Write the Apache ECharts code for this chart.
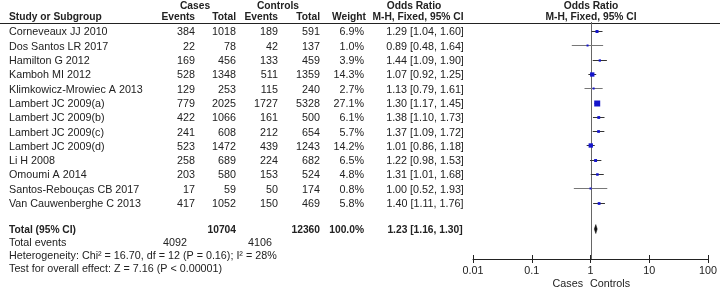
<!DOCTYPE html>
<html>
<head>
<meta charset="utf-8">
<script src="https://cdn.jsdelivr.net/npm/echarts@6/dist/echarts.min.js"></script>
<style>
  html, body { margin: 0; padding: 0; background: #fff; }
  #forest { width: 720px; height: 287px; }
</style>
</head>
<body>
<div id="forest"></div>
<script>
// study rows
const studies = ['Corneveaux JJ 2010', 'Dos Santos LR 2017', 'Hamilton G 2012', 'Kamboh MI 2012',
    'Klimkowicz-Mrowiec A 2013', 'Lambert JC 2009(a)', 'Lambert JC 2009(b)', 'Lambert JC 2009(c)',
    'Lambert JC 2009(d)', 'Li H 2008', 'Omoumi A 2014', 'Santos-Rebouças CB 2017', 'Van Cauwenberghe C 2013'];
const casesEvents = [384, 22, 169, 528, 129, 779, 422, 241, 523, 258, 203, 17, 417];
const casesTotal = [1018, 78, 456, 1348, 253, 2025, 1066, 608, 1472, 689, 580, 59, 1052];
const controlsEvents = [189, 42, 133, 511, 115, 1727, 161, 212, 439, 224, 153, 50, 150];
const controlsTotal = [591, 137, 459, 1359, 240, 5328, 500, 654, 1243, 682, 524, 174, 469];
const weights = [6.9, 1.0, 3.9, 14.3, 2.7, 27.1, 6.1, 5.7, 14.2, 6.5, 4.8, 0.8, 5.8];
const oddsRatios = [1.29, 0.89, 1.44, 1.07, 1.13, 1.30, 1.38, 1.37, 1.01, 1.22, 1.31, 1.00, 1.40];
const ciLow = [1.04, 0.48, 1.09, 0.92, 0.79, 1.17, 1.10, 1.09, 0.86, 0.98, 1.01, 0.52, 1.11];
const ciHigh = [1.60, 1.64, 1.90, 1.25, 1.61, 1.45, 1.73, 1.72, 1.18, 1.53, 1.68, 1.93, 1.76];

// pooled result
const totalParticipants = [10704, 12360];
const totalEvents = [4092, 4106];
const totalWeight = 100.0;
const pooled = [1.23, 1.16, 1.30]; // OR, low, high
const heterogeneityText = 'Heterogeneity: Chi² = 16.70, df = 12 (P = 0.16); I² = 28%';
const overallText = 'Test for overall effect: Z = 7.16 (P < 0.00001)';

const tickLabels = ['0.01', '0.1', '1', '10', '100'];
const favourLabels = ['Cases', 'Controls'];

(function () {
    const FONT = '"Liberation Sans", Arial, sans-serif';
    const FS = 10.75;
    const FS_BOLD = 10.25;
    const TEXT_DY = 1.5;  // text sits a little below the marks of its row
    const ROW_H = 14.3;   // pixel height of one row
    const ROW0 = 31;      // y of first study row

    // column anchors on the 0..720 table axis
    const COL = { name: 9, cEv: 195, cTot: 236, kEv: 278, kTot: 320, wt: 364, orMid: 425 };

    const ROW_TOTAL = 13.85, ROW_TEVENTS = 14.75, ROW_HET = 15.65, ROW_TEST = 16.55, ROW_FAV = 17.6;

    function fmtCI(o, l, h) {
        return o.toFixed(2) + ' [' + l.toFixed(2) + ', ' + h.toFixed(2) + ']';
    }

    let cells = [];
    function cell(x, row, text, align, bold) {
        cells.push({ x: x, row: row, text: String(text), align: align || 'right', bold: !!bold });
    }

    // header
    cell(195, -1.85, 'Cases', 'center', true);
    cell(278, -1.85, 'Controls', 'center', true);
    cell(414, -1.85, 'Odds Ratio', 'center', true);
    cell(591, -1.85, 'Odds Ratio', 'center', true);
    cell(COL.name, -1.05, 'Study or Subgroup', 'left', true);
    cell(COL.cEv, -1.05, 'Events', 'right', true);
    cell(COL.cTot, -1.05, 'Total', 'right', true);
    cell(COL.kEv, -1.05, 'Events', 'right', true);
    cell(COL.kTot, -1.05, 'Total', 'right', true);
    cell(366, -1.05, 'Weight', 'right', true);
    cell(418, -1.05, 'M-H, Fixed, 95% CI', 'center', true);
    cell(591, -1.05, 'M-H, Fixed, 95% CI', 'center', true);

    for (let i = 0; i < studies.length; i++) {
        cell(COL.name, i, studies[i], 'left');
        cell(COL.cEv, i, casesEvents[i]);
        cell(COL.cTot, i, casesTotal[i]);
        cell(COL.kEv, i, controlsEvents[i]);
        cell(COL.kTot, i, controlsTotal[i]);
        cell(COL.wt, i, weights[i].toFixed(1) + '%');
        cell(COL.orMid, i, fmtCI(oddsRatios[i], ciLow[i], ciHigh[i]), 'center');
    }

    cell(COL.name, ROW_TOTAL, 'Total (95% CI)', 'left', true);
    cell(COL.cTot, ROW_TOTAL, totalParticipants[0], 'right', true);
    cell(COL.kTot, ROW_TOTAL, totalParticipants[1], 'right', true);
    cell(COL.wt, ROW_TOTAL, totalWeight.toFixed(1) + '%', 'right', true);
    cell(COL.orMid, ROW_TOTAL, fmtCI(pooled[0], pooled[1], pooled[2]), 'center', true);

    cell(COL.name, ROW_TEVENTS, 'Total events', 'left');
    cell(187, ROW_TEVENTS, totalEvents[0]);
    cell(272, ROW_TEVENTS, totalEvents[1]);
    cell(COL.name, ROW_HET, heterogeneityText, 'left');
    cell(COL.name, ROW_TEST, overallText, 'left');

    cell(583, ROW_FAV, favourLabels[0], 'right');
    cell(590, ROW_FAV, favourLabels[1], 'left');

    let studyData = [];
    for (let i = 0; i < studies.length; i++) {
        studyData.push([oddsRatios[i], ciLow[i], ciHigh[i], i, weights[i]]);
    }

    const yMin = (22 - ROW0) / ROW_H, yMax = (259 - ROW0) / ROW_H;

    let chartDom = document.getElementById('forest');
    let myChart = echarts.init(chartDom, null, { renderer: 'canvas' });

    let option = {
        animation: false,
        backgroundColor: '#fff',
        grid: [
            { left: 0, right: 0, top: 0, bottom: 0 },
            { left: 473, right: 9, top: 22, bottom: 28 }
        ],
        xAxis: [
            { gridIndex: 0, type: 'value', min: 0, max: 720, show: false },
            {
                gridIndex: 1, type: 'log', logBase: 10, min: 0.01, max: 100, position: 'bottom',
                axisLine: { show: true, onZero: false, lineStyle: { color: '#222', width: 1 } },
                axisTick: { show: true, length: 4, lineStyle: { color: '#222' } },
                splitLine: { show: false },
                axisLabel: {
                    show: true, margin: 7, color: '#222', fontSize: FS, fontFamily: FONT,
                    formatter: function (v) { return tickLabels[Math.round(Math.log10(v)) + 2]; }
                }
            },
            {
                gridIndex: 1, type: 'log', logBase: 10, min: 0.01, max: 100, position: 'bottom',
                axisLine: { show: false, onZero: false },
                axisTick: { show: true, inside: true, length: 4, lineStyle: { color: '#222' } },
                splitLine: { show: false },
                axisLabel: { show: false }
            }
        ],
        yAxis: [
            { gridIndex: 0, type: 'value', inverse: true, min: -ROW0 / ROW_H, max: (287 - ROW0) / ROW_H, show: false },
            { gridIndex: 1, type: 'value', inverse: true, min: yMin, max: yMax, show: false }
        ],
        series: [
            {
                // table text
                type: 'custom',
                xAxisIndex: 0, yAxisIndex: 0,
                silent: true,
                data: cells.map(function (c) { return [c.x, c.row]; }),
                renderItem: function (params, api) {
                    let c = cells[params.dataIndex];
                    let p = api.coord([c.x, c.row]);
                    return {
                        type: 'text',
                        style: {
                            x: p[0], y: p[1] + TEXT_DY, text: c.text,
                            align: c.align, verticalAlign: 'middle',
                            font: c.bold ? 'bold ' + FS_BOLD + 'px ' + FONT : FS + 'px ' + FONT,
                            fill: '#222'
                        }
                    };
                }
            },
            {
                // header rule
                type: 'custom',
                xAxisIndex: 0, yAxisIndex: 0,
                silent: true,
                data: [[0, -0.59]],
                renderItem: function (params, api) {
                    let a = api.coord([0, -0.59]);
                    let b = api.coord([720, -0.59]);
                    return {
                        type: 'line',
                        shape: { x1: a[0], y1: Math.round(a[1]) + 0.5, x2: b[0], y2: Math.round(b[1]) + 0.5 },
                        style: { stroke: '#222', lineWidth: 1 }
                    };
                }
            },
            {
                // line of no effect (OR = 1)
                type: 'custom',
                xAxisIndex: 1, yAxisIndex: 1,
                silent: true,
                encode: { x: 0, y: 1 },
                data: [[1, yMin]],
                renderItem: function (params, api) {
                    let a = api.coord([1, yMin]);
                    let b = api.coord([1, yMax]);
                    let x = Math.round(a[0]) + 0.5;
                    return {
                        type: 'line',
                        shape: { x1: x, y1: a[1], x2: x, y2: b[1] },
                        style: { stroke: '#666', lineWidth: 1 }
                    };
                }
            },
            {
                // studies: CI line + weighted square
                type: 'custom',
                xAxisIndex: 1, yAxisIndex: 1,
                silent: true,
                encode: { x: [0, 1, 2], y: 3 },
                data: studyData,
                renderItem: function (params, api) {
                    let row = api.value(3);
                    let c = api.coord([api.value(0), row]);
                    let l = api.coord([api.value(1), row]);
                    let h = api.coord([api.value(2), row]);
                    let w = api.value(4);
                    let s = Math.max(2, 1.15 * Math.sqrt(w));
                    let y = Math.round(c[1]) + 0.5;
                    return {
                        type: 'group',
                        children: [
                            {
                                type: 'line',
                                shape: { x1: l[0], y1: y, x2: h[0], y2: y },
                                style: { stroke: w < 3 ? '#777' : '#333', lineWidth: 1 }
                            },
                            {
                                type: 'rect',
                                shape: { x: c[0] - s / 2, y: y - s / 2, width: s, height: s },
                                style: { fill: '#1414cc' }
                            }
                        ]
                    };
                }
            },
            {
                // pooled diamond
                type: 'custom',
                xAxisIndex: 1, yAxisIndex: 1,
                silent: true,
                encode: { x: [0, 1, 2], y: 3 },
                data: [[pooled[0], pooled[1], pooled[2], ROW_TOTAL]],
                renderItem: function (params, api) {
                    let row = api.value(3);
                    let c = api.coord([api.value(0), row]);
                    let l = api.coord([api.value(1), row]);
                    let h = api.coord([api.value(2), row]);
                    return {
                        type: 'polygon',
                        shape: { points: [[l[0], c[1]], [c[0], c[1] - 4.5], [h[0], c[1]], [c[0], c[1] + 4.5]] },
                        style: { fill: '#111', stroke: '#111', lineWidth: 0.5 }
                    };
                }
            }
        ]
    };

    myChart.setOption(option);

    window.addEventListener('resize', function () {
        myChart.resize();
    });
})();
</script>
</body>
</html>
